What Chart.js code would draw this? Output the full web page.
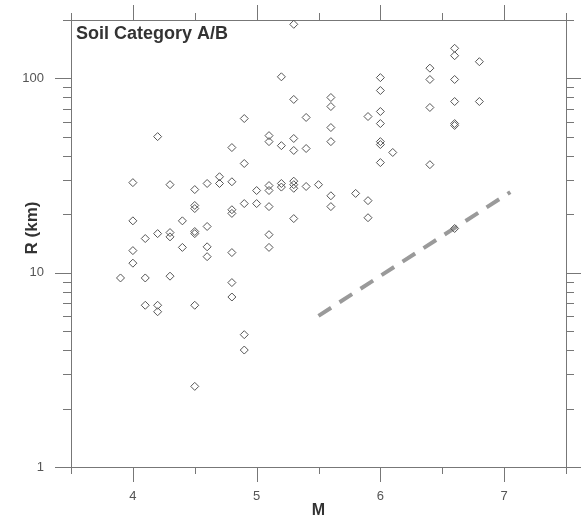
<!DOCTYPE html>
<html>
<head>
<meta charset="utf-8">
<title>Soil Category A/B</title>
<script src="https://cdn.jsdelivr.net/npm/chart.js@4.4.0/dist/chart.umd.min.js"></script>
<style>
  body { margin: 0; background: #fff; }
  canvas { display: block; }
</style>
</head>
<body>
<canvas id="soil_ab" width="581" height="520"></canvas>
<script>
// magnitude columns, and the distances (km) recorded at each of them
var magnitudes = [3.9, 4.0, 4.1, 4.2, 4.3, 4.4, 4.5, 4.6, 4.7, 4.8, 4.9, 5.0, 5.1, 5.2, 5.3, 5.4, 5.5, 5.6, 5.8, 5.9, 6.0, 6.1, 6.4, 6.6, 6.8];
var distances = [
  [9.4],
  [29.1, 18.5, 13.0, 11.2],
  [15.0, 9.4, 6.8],
  [50.2, 15.9, 6.8, 6.3],
  [28.4, 16.1, 15.3, 9.6],
  [18.5, 13.5],
  [26.8, 22.2, 21.4, 16.3, 15.9, 6.8, 2.6],
  [28.8, 17.3, 13.6, 12.1],
  [31.2, 28.8],
  [44.1, 29.4, 21.1, 20.2, 12.7, 8.9, 7.5],
  [62.2, 36.5, 22.7, 4.8, 4.0],
  [26.5, 22.7],
  [50.8, 47.3, 28.1, 26.5, 21.9, 15.7, 13.5],
  [102, 45.1, 28.8, 27.6],
  [190, 78, 49.1, 42.6, 29.6, 28.4, 27.2, 19.0],
  [63, 43.6, 27.8],
  [28.4],
  [79.8, 71.7, 55.9, 47.3, 24.9, 21.9],
  [25.6],
  [63.7, 23.5, 19.2],
  [101, 86.7, 67.6, 58.6, 47.3, 45.7, 36.9],
  [41.6],
  [113, 98.8, 70.9, 36.0],
  [143, 131, 98.8, 76.1, 58.6, 57.3, 16.9],
  [122, 76.1]
];

// dashed reference line
var lineM = [5.5, 7.05];
var lineR = [6, 26];

// axis ticks
var xTickLabels = [4, 5, 6, 7];
var xMinorTicks = [3.5, 4.5, 5.5, 6.5, 7.5];
var yTickLabels = [1, 10, 100];
var yMinorTicks = [2, 3, 4, 5, 6, 7, 8, 9, 20, 30, 40, 50, 60, 70, 80, 90, 200];

var FONT = '"Liberation Sans", Arial, Helvetica, sans-serif';

var points = [];
magnitudes.forEach(function(m, i) {
  distances[i].forEach(function(r) { points.push({x: m, y: r}); });
});
var trend = lineM.map(function(m, i) { return {x: m, y: lineR[i]}; });

// fixed box sizes so the frame sits where it does in the figure
function fixBox(w, h) {
  return function(s) {
    if (w !== null) s.width = w;
    if (h !== null) s.height = h;
    s.paddingTop = s.paddingBottom = s.paddingLeft = s.paddingRight = 0;
  };
}

// tick marks on all four sides plus the texts inside / beside the frame
var frameExtras = {
  id: 'frameExtras',
  afterDraw: function(chart) {
    var ctx = chart.ctx, a = chart.chartArea;
    var sx = chart.scales.x, sy = chart.scales.y;
    ctx.save();
    ctx.strokeStyle = '#777';
    ctx.lineWidth = 1;
    ctx.beginPath();
    function xTick(v, len) {
      var px = Math.round(sx.getPixelForValue(v)) + 0.5;
      ctx.moveTo(px, a.bottom); ctx.lineTo(px, a.bottom + len);
      ctx.moveTo(px, a.top); ctx.lineTo(px, a.top - len);
    }
    function yTick(v, len) {
      var py = Math.round(sy.getPixelForValue(v)) + 0.5;
      ctx.moveTo(a.left, py); ctx.lineTo(a.left - len, py);
      ctx.moveTo(a.right, py); ctx.lineTo(a.right + len, py);
    }
    xTickLabels.forEach(function(v) { xTick(v, 15); });
    xMinorTicks.forEach(function(v) { xTick(v, 7); });
    yTickLabels.forEach(function(v) { yTick(v, 16); });
    yMinorTicks.forEach(function(v) { yTick(v, 8); });
    ctx.stroke();

    ctx.fillStyle = '#333';
    ctx.font = 'bold 18px ' + FONT;
    ctx.textAlign = 'left';
    ctx.textBaseline = 'alphabetic';
    ctx.fillText('Soil Category A/B', a.left + 5, a.top + 19);

    // y axis title
    ctx.translate(32, 228);
    ctx.rotate(-Math.PI / 2);
    ctx.font = 'bold 17px ' + FONT;
    ctx.textAlign = 'center';
    ctx.textBaseline = 'middle';
    ctx.fillText('R (km)', 0, 0);
    ctx.restore();
  }
};

var ctx = document.getElementById('soil_ab').getContext('2d');
var chart = new Chart(ctx, {
  type: 'scatter',
  data: {
    datasets: [{
      label: 'records',
      data: points,
      pointStyle: 'rectRot',
      pointRadius: 4,
      borderWidth: 1,
      borderColor: '#555',
      backgroundColor: 'rgba(0,0,0,0)',
    }, {
      type: 'line',
      label: 'trend',
      data: trend,
      borderColor: '#9a9a9a',
      borderWidth: 4,
      borderDash: [15, 10],
      pointRadius: 0,
      fill: false,
    }],
  },
  options: {
    responsive: false,
    animation: false,
    devicePixelRatio: 1,
    events: [],
    layout: { padding: 0 },
    plugins: {
      legend: { display: false },
      tooltip: { enabled: false },
    },
    scales: {
      x: {
        type: 'linear',
        position: 'bottom',
        min: 3.5,
        max: 7.5,
        afterBuildTicks: function(s) { s.ticks = xTickLabels.map(function(v) { return {value: v}; }); },
        afterFit: fixBox(null, 53),
        grid: { display: false, drawTicks: false },
        border: { color: '#777' },
        ticks: { color: '#555', padding: 22, maxRotation: 0, font: { family: FONT, size: 13 } },
        title: { display: true, text: 'M', color: '#333', padding: { top: 0, bottom: 0 }, font: { family: FONT, size: 16, weight: 'bold' } },
      },
      xTop: {
        type: 'linear',
        position: 'top',
        min: 3.5,
        max: 7.5,
        afterFit: fixBox(null, 20),
        grid: { display: false, drawTicks: false },
        border: { color: '#777' },
        ticks: { display: false },
      },
      y: {
        type: 'logarithmic',
        position: 'left',
        min: 1,
        max: 200,
        afterBuildTicks: function(s) { s.ticks = yTickLabels.map(function(v) { return {value: v}; }); },
        afterFit: fixBox(71, null),
        grid: { display: false, drawTicks: false },
        border: { color: '#777' },
        ticks: { color: '#555', padding: 27, font: { family: FONT, size: 13 }, callback: function(v) { return String(v); } },
      },
      yRight: {
        type: 'logarithmic',
        position: 'right',
        min: 1,
        max: 200,
        afterFit: fixBox(15, null),
        grid: { display: false, drawTicks: false },
        border: { color: '#777' },
        ticks: { display: false },
      },
    },
  },
  plugins: [frameExtras],
});
</script>
</body>
</html>
